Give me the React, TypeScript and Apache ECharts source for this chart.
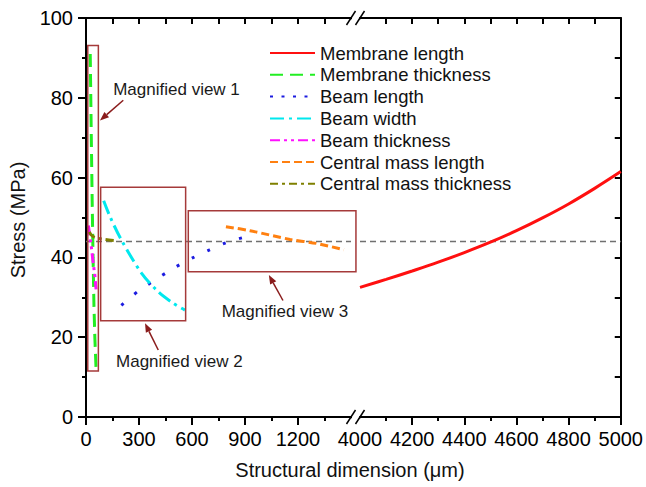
import { useEffect, useRef } from 'react';
import * as echarts from 'echarts';

const FONT = '"Liberation Sans", Arial, Helvetica, sans-serif';

// ---- data ----
const seriesNames = [
  'Membrane length',
  'Membrane thickness',
  'Beam length',
  'Beam width',
  'Beam thickness',
  'Central mass length',
  'Central mass thickness',
];

const membraneLength = [
  [4000, 32.5], [4100, 34.5], [4200, 36.6], [4300, 38.8], [4400, 41.2], [4500, 43.8],
  [4600, 46.7], [4700, 49.9], [4800, 53.4], [4900, 57.3], [5000, 61.5],
];
const membraneThickness = [[24, 91], [30, 70], [35, 54], [40, 40], [45, 28], [50, 20], [57, 12]];
const beamLength = [
  [200, 28], [300, 31.7], [400, 34.6], [500, 37.4], [600, 39.8], [700, 41.9], [800, 43.8], [900, 45.1], [950, 45.5],
];
const beamWidth = [[100, 54.2], [136, 50.2], [200, 44.4], [315, 36], [409, 31.4], [494, 28.5], [560, 26.8]];
const beamThickness = [[13, 48], [23, 45.2], [32, 41.9], [41, 38.5], [51, 35.2], [57, 32]];
const centralMassLength = [[792, 47.7], [928, 46.7], [1155, 44.5], [1305, 43.5], [1460, 41.9]];
const centralMassThickness = [[19, 46.4], [30, 45.6], [50, 45], [107, 44.5], [174, 44.2]];

const referenceStress = 44;
const leftRange = [0, 1500];
const rightRange = [4000, 5000];
const stressRange = [0, 100];
const leftTickStep = 300;
const rightTickStep = 200;
const stressTickStep = 20;

// annotation boxes in data units of the left panel
const boxes = [
  { x: [10, 70], y: [11.5, 93.1] },
  { x: [83, 564], y: [24.1, 57.6] },
  { x: [579, 1528], y: [36.4, 51.7] },
];
const arrows = [
  { from: [211, 79.4], to: [79, 74.3] },
  { from: [409, 16.8], to: [334, 23.5] },
  { from: [1115, 29.2], to: [1035, 35.6] },
];
const labels = [
  { text: 'Magnified view 1', at: [154, 82] },
  { text: 'Magnified view 2', at: [170, 13.9] },
  { text: 'Magnified view 3', at: [768, 26.4] },
];

// ---- layout ----
const G0 = { left: 86, top: 18, width: 265, height: 399 };
const G1 = { left: 360, top: 18, width: 262, height: 399 };

const styles: Record<string, any> = {
  'Membrane length': { color: '#ff1010', width: 3, type: 'solid' },
  'Membrane thickness': { color: '#22ee22', width: 3, type: [13, 7] },
  'Beam length': { color: '#1c1ce0', width: 3, type: [3, 14] },
  'Beam width': { color: '#00e8ee', width: 3, type: [14, 5, 3, 5] },
  'Beam thickness': { color: '#ff10ff', width: 3, type: [10, 4, 3, 4, 3, 4] },
  'Central mass length': { color: '#ff8010', width: 3, type: [8, 4] },
  'Central mass thickness': { color: '#7f8000', width: 3, type: [8, 4, 3, 4] },
};

export default function App() {
  const ref = useRef<HTMLDivElement>(null);

  useEffect(() => {
    document.body.style.margin = '0';
    const chart = echarts.init(ref.current!, null, { renderer: 'svg' });
    const black = '#000';

    const bottomAxis = (gridIndex: number, range: number[], step: number) => ({
      type: 'value',
      gridIndex,
      position: 'bottom',
      min: range[0],
      max: range[1],
      interval: step,
      axisLine: { show: true, onZero: false, lineStyle: { color: black, width: 2 } },
      axisTick: { show: true, inside: false, length: 8, lineStyle: { color: black, width: 2 } },
      minorTick: { show: true, splitNumber: 2, length: 4, lineStyle: { color: black, width: 2 } },
      axisLabel: {
        show: true,
        fontSize: 20,
        fontFamily: FONT,
        color: black,
        margin: 12,
        showMinLabel: true,
        showMaxLabel: gridIndex === 1,
        formatter: (v: number) => String(v),
      },
      splitLine: { show: false },
    });
    const topAxis = (gridIndex: number, range: number[], step: number) => ({
      type: 'value',
      gridIndex,
      position: 'top',
      min: range[0],
      max: range[1],
      interval: step,
      axisLine: { show: true, onZero: false, lineStyle: { color: black, width: 2 } },
      axisTick: { show: true, inside: true, length: 6, lineStyle: { color: black, width: 2 } },
      axisLabel: { show: false },
      splitLine: { show: false },
    });

    const seriesDefs: [string, number[][], number, number | false][] = [
      ['Membrane length', membraneLength, 1, 0.4],
      ['Membrane thickness', membraneThickness, 0, false],
      ['Beam length', beamLength, 0, 0.3],
      ['Beam width', beamWidth, 0, 0.3],
      ['Beam thickness', beamThickness, 0, false],
      ['Central mass length', centralMassLength, 0, 0.3],
      ['Central mass thickness', centralMassThickness, 0, 0.3],
    ];

    const series: any[] = [
      {
        name: 'ref-left',
        type: 'line',
        xAxisIndex: 0,
        yAxisIndex: 0,
        data: [[leftRange[0], referenceStress], [leftRange[1], referenceStress]],
        symbol: 'none',
        silent: true,
        lineStyle: { color: '#707070', width: 1.5, type: [6, 4] },
        z: 1,
      },
      {
        name: 'ref-right',
        type: 'line',
        xAxisIndex: 1,
        yAxisIndex: 1,
        data: [[rightRange[0], referenceStress], [rightRange[1], referenceStress]],
        symbol: 'none',
        silent: true,
        lineStyle: { color: '#707070', width: 1.5, type: [6, 4] },
        z: 1,
      },
      ...seriesDefs.map(([name, data, g, smooth]) => ({
        name,
        type: 'line',
        xAxisIndex: g,
        yAxisIndex: g,
        data,
        symbol: 'none',
        smooth,
        lineStyle: { ...styles[name] },
        itemStyle: { color: styles[name].color },
        z: 3,
      })),
    ];

    chart.setOption({
      animation: false,
      textStyle: { fontFamily: FONT },
      grid: [
        { ...G0, containLabel: false },
        { ...G1, containLabel: false },
      ],
      xAxis: [
        bottomAxis(0, leftRange, leftTickStep),
        bottomAxis(1, rightRange, rightTickStep),
        topAxis(0, leftRange, leftTickStep / 2),
        topAxis(1, rightRange, rightTickStep / 2),
      ],
      yAxis: [
        {
          type: 'value',
          gridIndex: 0,
          position: 'left',
          min: stressRange[0],
          max: stressRange[1],
          interval: stressTickStep,
          axisLine: { show: true, onZero: false, lineStyle: { color: black, width: 2 } },
          axisTick: { show: true, inside: false, length: 8, lineStyle: { color: black, width: 2 } },
          minorTick: { show: true, splitNumber: 2, length: 4, lineStyle: { color: black, width: 2 } },
          axisLabel: { show: true, fontSize: 20, fontFamily: FONT, color: black, margin: 13 },
          splitLine: { show: false },
        },
        {
          type: 'value',
          gridIndex: 1,
          position: 'right',
          min: stressRange[0],
          max: stressRange[1],
          interval: stressTickStep / 2,
          axisLine: { show: true, onZero: false, lineStyle: { color: black, width: 2 } },
          axisTick: { show: true, inside: true, length: 6, lineStyle: { color: black, width: 2 } },
          axisLabel: { show: false },
          splitLine: { show: false },
        },
      ],
      legend: {
        data: seriesNames.map((n) =>
          n === 'Beam length' ? { name: n, lineStyle: { type: [3, 8.5] } } : { name: n }
        ),
        orient: 'vertical',
        left: 269,
        top: 43,
        padding: 0,
        itemWidth: 45,
        itemHeight: 14,
        itemGap: 1.8,
        selectedMode: false,
        itemStyle: { opacity: 0 },
        textStyle: { fontSize: 18.5, fontFamily: FONT, color: '#111', lineHeight: 20 },
      },
      series,
    });

    const toPx = (p: number[]) => chart.convertToPixel({ xAxisIndex: 0, yAxisIndex: 0 }, p) as number[];
    const red = '#a53a3a';
    const arrowRed = '#8a1c1c';
    const graphic: any[] = [];

    boxes.forEach((b) => {
      const a = toPx([b.x[0], b.y[1]]);
      const c = toPx([b.x[1], b.y[0]]);
      graphic.push({
        type: 'rect',
        z: 50,
        shape: { x: a[0], y: a[1], width: c[0] - a[0], height: c[1] - a[1] },
        style: { fill: 'none', stroke: red, lineWidth: 1.5 },
      });
    });

    arrows.forEach((ar) => {
      const f = toPx(ar.from);
      const t = toPx(ar.to);
      const dx = t[0] - f[0];
      const dy = t[1] - f[1];
      const len = Math.hypot(dx, dy);
      const ux = dx / len;
      const uy = dy / len;
      const hl = 9;
      const hw = 3.5;
      const bx = t[0] - ux * hl;
      const by = t[1] - uy * hl;
      graphic.push({
        type: 'line',
        z: 50,
        shape: { x1: f[0], y1: f[1], x2: bx, y2: by },
        style: { stroke: arrowRed, lineWidth: 1.5 },
      });
      graphic.push({
        type: 'polygon',
        z: 50,
        shape: {
          points: [
            [t[0], t[1]],
            [bx - uy * hw, by + ux * hw],
            [bx + uy * hw, by - ux * hw],
          ],
        },
        style: { fill: arrowRed },
      });
    });

    labels.forEach((l) => {
      const p = toPx(l.at);
      graphic.push({
        type: 'text',
        z: 50,
        x: p[0],
        y: p[1],
        style: {
          text: l.text,
          fontSize: 17,
          fontFamily: FONT,
          fill: '#1a1a1a',
          align: 'left',
          verticalAlign: 'middle',
        },
      });
    });

    // axis break marks
    const breakX = (G0.left + G0.width + G1.left) / 2;
    [G0.top, G0.top + G0.height].forEach((y, i) => {
      graphic.push({
        type: 'rect',
        z: 60,
        shape: {
          x: breakX - 6,
          y: y + 1.2,
          width: 12,
          height: i === 0 ? 7 : 9,
        },
        style: { fill: '#fff', stroke: 'none' },
      });
      graphic.push({
        type: 'line',
        z: 61,
        shape: { x1: breakX - 9, y1: y + 7, x2: breakX, y2: y - 7 },
        style: { stroke: black, lineWidth: 1.5 },
      });
      graphic.push({
        type: 'line',
        z: 61,
        shape: { x1: breakX, y1: y + 7, x2: breakX + 9, y2: y - 7 },
        style: { stroke: black, lineWidth: 1.5 },
      });
    });

    // axis titles
    graphic.push({
      type: 'text',
      z: 50,
      x: 350,
      y: 470,
      style: {
        text: 'Structural dimension (μm)',
        fontSize: 20,
        fontFamily: FONT,
        fill: '#111',
        align: 'center',
        verticalAlign: 'middle',
      },
    });
    graphic.push({
      type: 'text',
      z: 50,
      x: 18,
      y: 220,
      rotation: Math.PI / 2,
      style: {
        text: 'Stress (MPa)',
        fontSize: 20,
        fontFamily: FONT,
        fill: '#111',
        align: 'center',
        verticalAlign: 'middle',
      },
    });

    chart.setOption({ graphic });

    return () => {
      chart.dispose();
    };
  }, []);

  return <div ref={ref} style={{ width: 646, height: 487 }} />;
}
